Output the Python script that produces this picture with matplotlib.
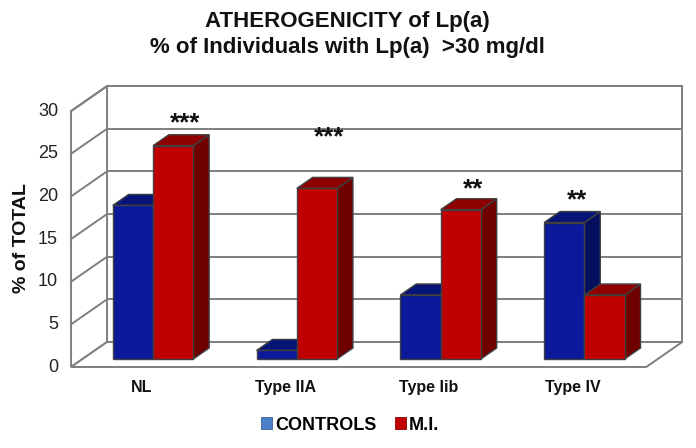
import matplotlib
matplotlib.use("Agg")
import matplotlib.pyplot as plt
from matplotlib.patches import Polygon, Patch

# ---------------- data ----------------
categories = ["NL", "Type IIA", "Type Iib", "Type IV"]
controls = [18.0, 1.0, 7.5, 16.0]
mi = [25.0, 20.0, 17.5, 7.5]
series_names = ["CONTROLS", "M.I."]
yticks = [0, 5, 10, 15, 20, 25, 30]
sig_labels = ["***", "***", "**", "**"]
sig_series = [1, 1, 1, 0]           # which bar of the pair carries the mark
sig_level = [27.0, 25.3, 19.2, 18.0]  # label height (value units)

# ---------------- style ----------------
plt.rcParams["font.family"] = ["Liberation Sans", "DejaVu Sans"]
FRONT = ["#0A1A9A", "#C00000"]
TOP = ["#061478", "#8E0000"]
SIDE = ["#040F60", "#700000"]
LEG = ["#4B7FC8", "#C00000"]
GRID = "#7F7F7F"
EDGE = "#404040"

W, H = 696, 448
PX_CAT, PX_VAL = 143.8, 8.53      # pixels per category / per value unit
X0, Y0 = 141.5, 367.0             # pixel of (cat 0, value 0) on the front plane
DX, DY = 36 / PX_CAT, 25 / PX_VAL # depth offset (full depth)
XL, XR, YMAX = -0.49, 3.51, 30
D0, D1, BW = 0.32, 0.76, 0.28

fig = plt.figure(figsize=(W / 100, H / 100), dpi=100)
ax = fig.add_axes([0, 0, 1, 1])
ax.set_xlim(-X0 / PX_CAT, (W - X0) / PX_CAT)
ax.set_ylim((Y0 - H) / PX_VAL, Y0 / PX_VAL)
ax.axis("off")


def P(x, y, d):
    return (x + d * DX, y + d * DY)


# walls and floor
lw = 1.4
ax.add_patch(Polygon([P(XL, 0, 1), P(XR, 0, 1), P(XR, YMAX, 1), P(XL, YMAX, 1)],
                     closed=True, fc="white", ec=GRID, lw=lw, zorder=1))
ax.add_patch(Polygon([P(XL, 0, 0), P(XL, 0, 1), P(XL, YMAX, 1), P(XL, YMAX, 0)],
                     closed=True, fc="white", ec=GRID, lw=lw, zorder=1))
ax.add_patch(Polygon([P(XL, 0, 0), P(XR, 0, 0), P(XR, 0, 1), P(XL, 0, 1)],
                     closed=True, fc="white", ec=GRID, lw=lw, zorder=1))
for t in yticks[1:]:
    a, b = P(XL, t, 1), P(XR, t, 1)
    ax.plot([a[0], b[0]], [a[1], b[1]], color=GRID, lw=lw, zorder=1.5)
    a, b = P(XL, t, 0), P(XL, t, 1)
    ax.plot([a[0], b[0]], [a[1], b[1]], color=GRID, lw=lw, zorder=1.5)

# tick labels
for t in yticks:
    ax.text(XL - 13 / PX_CAT, t, str(t), ha="right", va="center", fontsize=13,
            color="#222222")

# bars
for i, cat in enumerate(categories):
    for s, vals in enumerate([controls, mi]):
        v = vals[i]
        x0 = i + (s - 1) * BW
        x1 = x0 + BW
        z = 3 + i + s * 0.5
        side = [P(x1, 0, D0), P(x1, 0, D1), P(x1, v, D1), P(x1, v, D0)]
        top = [P(x0, v, D0), P(x1, v, D0), P(x1, v, D1), P(x0, v, D1)]
        front = [P(x0, 0, D0), P(x1, 0, D0), P(x1, v, D0), P(x0, v, D0)]
        for poly, col in [(side, SIDE[s]), (top, TOP[s]), (front, FRONT[s])]:
            ax.add_patch(Polygon(poly, closed=True, fc=col, ec=EDGE, lw=1.0,
                                 zorder=z, joinstyle="miter"))
    # category label
    lx, ly = P(i, -2.35, 0)
    ax.text(lx, ly, cat, ha="center", va="center", fontsize=11.5,
            fontweight="bold", color="#111111")
    # significance marks
    s = sig_series[i]
    sx, sy = P(i + (s - 0.5) * BW + 0.03, sig_level[i], 0.54)
    ax.text(sx, sy, sig_labels[i], ha="center", va="center", fontsize=18.5,
            fontweight="bold", color="#111111", zorder=10)

# titles
fig.text(347 / W, 1 - 22 / H, "ATHEROGENICITY of Lp(a)", ha="center", va="center",
         fontsize=16, fontweight="bold", color="#111111")
fig.text(347 / W, 1 - 47 / H, "% of Individuals with Lp(a)  >30 mg/dl", ha="center",
         va="center", fontsize=16, fontweight="bold", color="#111111")
fig.text(22 / W, 1 - 238 / H, "% of TOTAL", rotation=90, ha="center", va="center",
         fontsize=14, fontweight="bold", color="#111111")

# legend
handles = [Patch(fc=LEG[0], ec="#3A5F9A", lw=0.6), Patch(fc=LEG[1], ec="#8E0000", lw=0.6)]
fig.legend(handles, series_names, loc="center", bbox_to_anchor=(350 / W, 1 - 425 / H),
           ncol=2, frameon=False, handlelength=0.62, handleheight=0.62,
           handletextpad=0.15, columnspacing=1.0,
           prop={"weight": "bold", "size": 13})

fig.savefig("out.png", dpi=100)
